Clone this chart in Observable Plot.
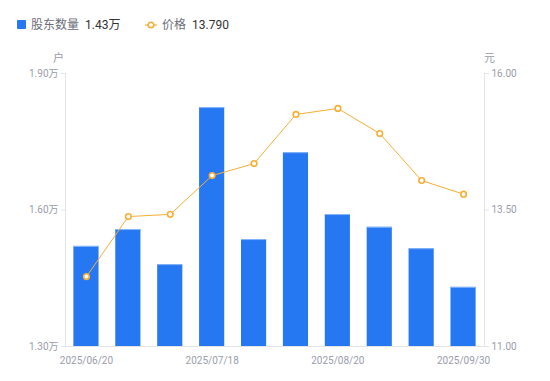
<!DOCTYPE html>
<html>
<head>
<meta charset="utf-8">
<script src="https://cdn.jsdelivr.net/npm/d3@7"></script>
<script src="https://cdn.jsdelivr.net/npm/@observablehq/plot@0.6"></script>
<style>
  html, body { margin: 0; padding: 0; background: #fff; }
  #wrap { position: relative; width: 550px; height: 381px; font-family: Roboto, "Noto Sans CJK SC", sans-serif; }
  #legend { position: absolute; left: 0; top: 0; width: 550px; height: 40px; font-size: 12px; }
  #legend .item { position: absolute; top: 17px; line-height: 16px; white-space: nowrap; }
  #legend .name { color: #6b6e78; }
  #legend .val { color: #333; margin-left: 6px; }
  .unit { position: absolute; top: 49px; font-size: 11px; color: #9a9dab; }
</style>
</head>
<body>
<div id="wrap">
  <div id="legend">
    <div class="item" style="left:17px"><span style="display:inline-block;width:9px;height:9px;background:#2677f2;border-radius:1px;vertical-align:-0px;margin-right:5px"></span><span class="name">股东数量</span><span class="val">1.43万</span></div>
    <div class="item" style="left:145px"><svg width="12" height="10" style="vertical-align:-1px;margin-right:5px"><line x1="0" y1="5" x2="12" y2="5" stroke="#f7ae35" stroke-width="1.2"/><circle cx="6" cy="5" r="2.8" fill="#fff" stroke="#f7ae35" stroke-width="1.6"/></svg><span class="name">价格</span><span class="val">13.790</span></div>
  </div>
  <div class="unit" style="left:53px">户</div>
  <div class="unit" style="left:484px">元</div>
  <div id="chart"></div>
</div>
<script>
const dates = ["2025/06/20","2025/06/30","2025/07/10","2025/07/18","2025/07/31","2025/08/10","2025/08/20","2025/08/31","2025/09/10","2025/09/30"];
const holders = [1.52, 1.557, 1.48, 1.825, 1.535, 1.726, 1.59, 1.562, 1.515, 1.43];
const prices = [12.28, 13.38, 13.42, 14.13, 14.35, 15.25, 15.36, 14.90, 14.04, 13.79];
const leftTicks = [1.3, 1.6, 1.9];
const xLabels = ["2025/06/20","2025/07/18","2025/08/20","2025/09/30"];

const yMin = 1.3, yMax = 1.9, pMin = 11, pMax = 16;
const p2y = p => yMin + (p - pMin) / (pMax - pMin) * (yMax - yMin);
const y2p = y => pMin + (y - yMin) / (yMax - yMin) * (pMax - pMin);

const data = dates.map((d, i) => ({date: d, holders: holders[i], price: prices[i], py: p2y(prices[i])}));

const axisColor = "#e3e4e8";
const labelColor = "#9a9dab";

const chart = Plot.plot({
  width: 550,
  height: 381,
  marginLeft: 65,
  marginRight: 66,
  marginTop: 73,
  marginBottom: 35,
  style: {fontFamily: "Roboto, 'Noto Sans CJK SC', sans-serif", fontSize: "10px", color: labelColor, background: "transparent"},
  x: {type: "band", domain: dates, paddingInner: 0.4, paddingOuter: 0.2, round: false},
  y: {domain: [yMin, yMax]},
  marks: [
    Plot.barY(data, {x: "date", y1: () => yMin, y2: "holders", fill: "#2677f2", insetLeft: 0, insetRight: 0}),
    Plot.ruleY(data, {x1: "date", x2: "date", y: "holders", stroke: "#8ab6fa", strokeWidth: 1}),
    Plot.line(data, {x: "date", y: "py", stroke: "#f7ae35", strokeWidth: 1}),
    Plot.dot(data, {x: "date", y: "py", r: 2.8, fill: "#fff", stroke: "#f7ae35", strokeWidth: 1.6}),
    Plot.ruleY([yMin], {stroke: axisColor, strokeWidth: 1}),
    Plot.axisY(leftTicks, {anchor: "left", tickSize: 4, tickPadding: 3, stroke: axisColor, fill: labelColor, label: null, tickFormat: d => d.toFixed(2) + "万"}),
    Plot.axisY(leftTicks, {anchor: "right", tickSize: 4, tickPadding: 3, stroke: axisColor, fill: labelColor, label: null, tickFormat: d => y2p(d).toFixed(2)}),
    Plot.frame({anchor: "left", stroke: axisColor}),
    Plot.frame({anchor: "right", stroke: axisColor}),
    Plot.axisX(xLabels, {anchor: "bottom", tickSize: 0, tickPadding: 10, fill: labelColor, label: null})
  ]
});
document.getElementById("chart").appendChild(chart);
</script>
</body>
</html>
